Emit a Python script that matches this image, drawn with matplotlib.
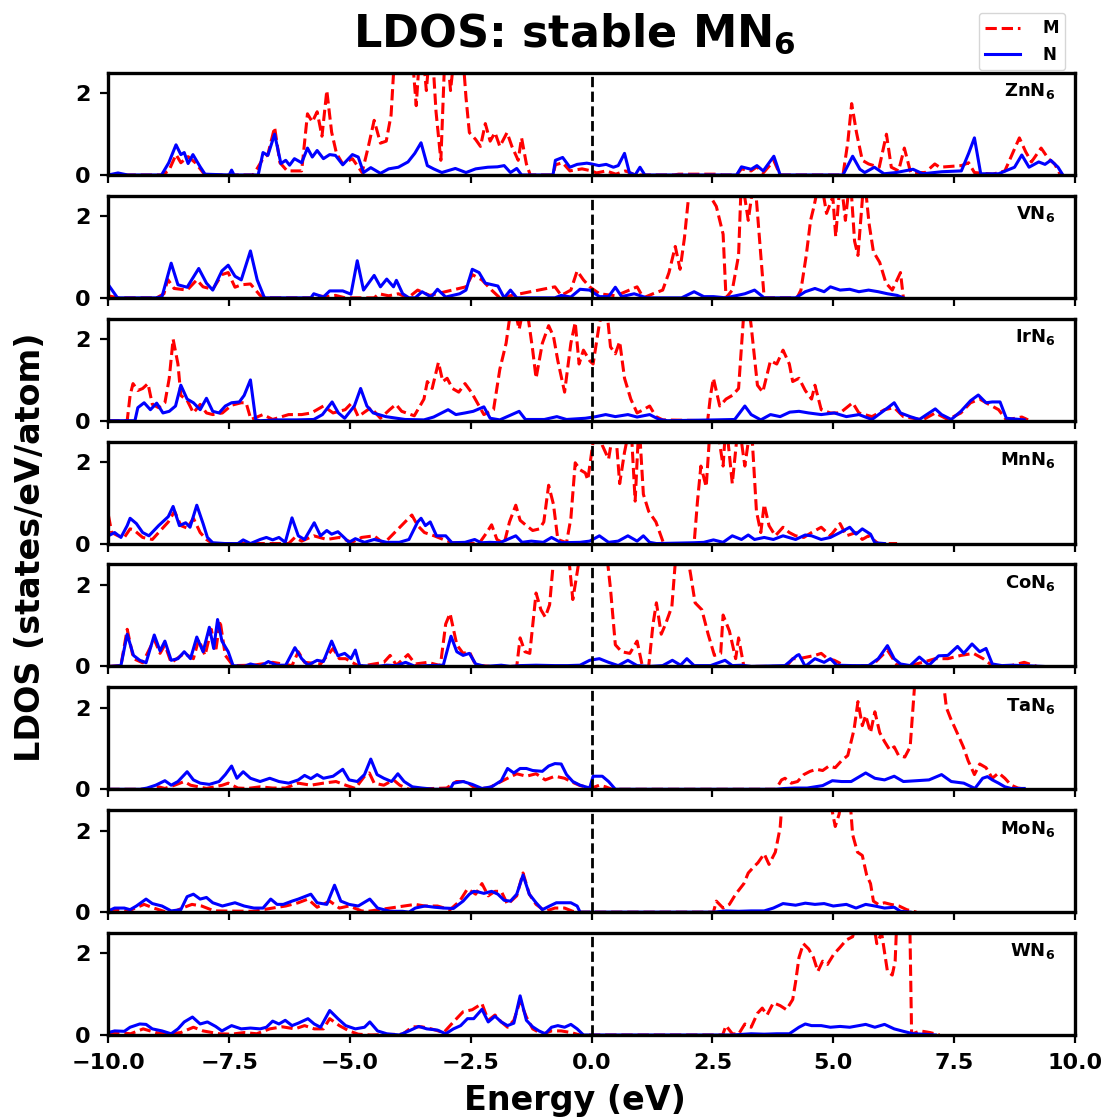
import matplotlib

matplotlib.use("Agg")
import matplotlib.pyplot as plt
from matplotlib.lines import Line2D

# energies (eV) and LDOS (states/eV/atom)
# values above the axis top (2.5) are clipped in the plot

ZN_M_E = [-10.0, -8.9, -8.75, -8.6, -8.5, -8.35, -8.2, -8.0, -7.0, -6.8, -6.7, -6.56, -6.45, -6.3, -6.0,
          -5.88, -5.78, -5.68, -5.58, -5.48, -5.38, -5.28, -5.15, -4.95, -4.75, -4.62, -4.5, -4.37, -4.25,
          -4.15, -4.05, -3.9, -3.75, -3.63, -3.53, -3.42, -3.32, -3.22, -3.12, -3.02, -2.92, -2.82, -2.7,
          -2.6, -2.53, -2.4, -2.3, -2.2, -2.1, -2.0, -1.9, -1.75, -1.65, -1.52, -1.45, -1.35, -1.27, -0.8,
          -0.75, -0.6, -0.45, -0.2, 0.0, 0.1, 0.3, 0.5, 0.7, 0.9, 1.7, 1.8, 2.6, 2.7, 3.0, 3.1, 3.3, 3.42,
          3.55, 3.77, 3.9, 5.2, 5.3, 5.38, 5.48, 5.6, 5.73, 5.95, 6.1, 6.2, 6.35, 6.47, 6.6, 6.9, 7.1, 7.2,
          7.65, 7.8, 7.92, 8.3, 8.55, 8.85, 8.98, 9.1, 9.3, 9.45, 9.58, 9.7]
ZN_M = [0.0, 0.0, 0.1, 0.5, 0.3, 0.45, 0.3, 0.0, 0.0, 0.4, 0.5, 1.17, 0.3, 0.1, 0.1,
        1.5, 1.3, 1.55, 0.95, 2.07, 1.05, 0.53, 0.27, 0.4, 0.06, 0.7, 1.34, 0.78, 0.83,
        1.47, 3.5, 3.0, 3.5, 1.7, 3.5, 2.07, 3.5, 1.55, 0.36, 3.5, 2.07, 3.2, 3.5,
        1.9, 1.04, 0.87, 0.7, 1.26, 0.83, 1.04, 0.7, 1.04, 0.7, 0.36, 0.91, 0.27, 0.0, 0.0,
        0.25, 0.3, 0.1, 0.15, 0.1, 0.05, 0.1, 0.02, 0.1, 0.0, 0.0, 0.02, 0.02, 0.0, 0.0, 0.15, 0.1, 0.2,
        0.05, 0.35, 0.0, 0.0, 0.8, 1.75, 1.04, 0.36, 0.27, 0.19, 1.0, 0.19, 0.1, 0.66, 0.06, 0.06, 0.27, 0.19,
        0.23, 0.3, 0.06, 0.02, 0.1, 0.91, 0.57, 0.32, 0.66, 0.4, 0.27, 0.0]
ZN_N_E = [-10.0, -9.8, -9.6, -8.9, -8.75, -8.6, -8.5, -8.43, -8.35, -8.25, -8.1, -8.0, -7.5, -7.45, -7.4,
          -6.9, -6.8, -6.7, -6.56, -6.43, -6.33, -6.25, -6.15, -6.0, -5.88, -5.78, -5.68, -5.55, -5.42,
          -5.3, -5.15, -4.95, -4.83, -4.72, -4.57, -4.37, -4.2, -4.0, -3.8, -3.66, -3.53, -3.4, -3.27,
          -3.1, -2.82, -2.6, -2.4, -2.15, -1.95, -1.81, -1.68, -1.55, -1.45, -0.8, -0.75, -0.6, -0.45,
          -0.3, -0.1, 0.0, 0.15, 0.3, 0.45, 0.55, 0.68, 0.78, 0.9, 1.0, 1.1, 3.0, 3.1, 3.3, 3.42, 3.55,
          3.77, 3.9, 5.2, 5.4, 5.55, 5.65, 5.85, 6.05, 6.3, 6.65, 6.85, 7.25, 7.65, 7.8, 7.92, 8.05, 8.42,
          8.75, 8.9, 9.05, 9.25, 9.38, 9.5, 9.65, 9.75]
ZN_N = [0.0, 0.05, 0.0, 0.0, 0.3, 0.74, 0.5, 0.55, 0.28, 0.5, 0.2, 0.02, 0.0, 0.12, 0.0,
        0.0, 0.55, 0.48, 1.0, 0.28, 0.36, 0.24, 0.4, 0.3, 0.66, 0.44, 0.6, 0.4, 0.5,
        0.48, 0.25, 0.5, 0.44, 0.06, 0.18, 0.04, 0.15, 0.19, 0.32, 0.53, 0.79, 0.23, 0.15,
        0.06, 0.16, 0.06, 0.15, 0.19, 0.2, 0.23, 0.06, 0.16, 0.0, 0.0, 0.36, 0.43, 0.19,
        0.26, 0.29, 0.27, 0.23, 0.26, 0.19, 0.23, 0.53, 0.06, 0.0, 0.19, 0.0, 0.0, 0.2, 0.14, 0.23, 0.1,
        0.46, 0.0, 0.0, 0.46, 0.14, 0.06, 0.19, 0.03, 0.06, 0.14, 0.03, 0.08, 0.1, 0.53, 0.91, 0.03, 0.03,
        0.19, 0.49, 0.19, 0.32, 0.26, 0.36, 0.19, 0.0]

V_M_E = [-10.0, -9.8, -9.0, -8.85, -8.77, -8.64, -8.5, -8.37, -8.17, -8.04, -7.84, -7.65, -7.52, -7.38,
         -7.25, -7.06, -6.86, -6.75, -5.8, -5.7, -5.5, -5.3, -5.1, -4.5, -4.4, -4.2, -4.0, -3.8, -3.6,
         -3.35, -2.6, -2.47, -2.27, -2.07, -1.9, -0.76, -0.63, -0.43, -0.3, -0.17, -0.04, 0.16, 0.5,
         0.94, 1.07, 1.27, 1.47, 1.6, 1.73, 1.83, 1.92, 2.05, 2.2, 2.4, 2.45, 2.58, 2.72, 2.78, 2.91,
         3.04, 3.1, 3.24, 3.37, 3.5, 3.57, 4.25, 4.33, 4.44, 4.53, 4.6, 4.73, 4.86, 4.99, 5.05, 5.15,
         5.25, 5.35, 5.44, 5.51, 5.64, 5.74, 5.83, 5.96, 6.09, 6.22, 6.39, 6.45]
V_M = [0.05, 0.0, 0.0, 0.1, 0.45, 0.23, 0.21, 0.19, 0.44, 0.27, 0.21, 0.57, 0.62, 0.26,
       0.32, 0.34, 0.06, 0.0, 0.0, 0.05, 0.03, 0.06, 0.0, 0.0, 0.1, 0.05, 0.1, 0.0, 0.19,
       0.06, 0.27, 0.57, 0.44, 0.19, 0.0, 0.27, 0.06, 0.19, 0.66, 0.44, 0.27, 0.1, 0.05,
       0.27, 0.0, 0.1, 0.19, 0.62, 1.26, 0.7, 1.47, 3.0, 3.0, 3.0, 2.5, 2.24, 1.56, 0.0, 0.19,
       1.04, 3.0, 1.9, 3.0, 1.04, 0.0, 0.0, 0.19, 1.04, 1.9, 2.24, 3.0, 2.07, 2.48, 1.5, 3.0,
       1.9, 3.0, 1.39, 1.04, 3.0, 1.82, 1.13, 0.87, 0.36, 0.19, 0.62, 0.0]
V_N_E = [-10.0, -9.81, -9.02, -8.89, -8.7, -8.56, -8.37, -8.13, -7.97, -7.84, -7.65, -7.52, -7.38, -7.25,
         -7.06, -6.92, -6.77, -5.81, -5.75, -5.55, -5.42, -5.15, -4.98, -4.85, -4.72, -4.5, -4.37, -4.24,
         -4.1, -4.04, -3.91, -3.78, -3.65, -3.51, -3.32, -3.19, -3.02, -2.73, -2.6, -2.47, -2.33, -2.2,
         -1.94, -1.81, -1.68, -1.55, -0.76, -0.63, -0.43, -0.24, -0.04, 0.16, 0.35, 0.49, 0.62, 0.88,
         1.14, 1.86, 2.12, 2.32, 2.52, 2.78, 3.17, 3.37, 3.57, 4.22, 4.42, 4.62, 4.81, 4.94, 5.14, 5.34,
         5.53, 5.73, 5.93, 6.12, 6.32, 6.45]
V_N = [0.32, 0.0, 0.0, 0.03, 0.85, 0.32, 0.26, 0.72, 0.36, 0.19, 0.66, 0.8, 0.53, 0.44,
       1.15, 0.44, 0.0, 0.0, 0.1, 0.02, 0.17, 0.17, 0.09, 0.91, 0.19, 0.55, 0.27, 0.46,
       0.27, 0.43, 0.1, 0.0, 0.0, 0.15, 0.02, 0.21, 0.02, 0.1, 0.19, 0.7, 0.62, 0.36,
       0.29, 0.0, 0.19, 0.0, 0.0, 0.06, 0.02, 0.21, 0.19, 0.03, 0.03, 0.26, 0.03, 0.1,
       0.0, 0.0, 0.15, 0.03, 0.03, 0.0, 0.1, 0.19, 0.0, 0.0, 0.15, 0.23, 0.15, 0.27, 0.19, 0.21,
       0.15, 0.19, 0.15, 0.1, 0.06, 0.0]

IR_M_E = [-10.0, -9.61, -9.55, -9.49, -9.39, -9.29, -9.18, -9.09, -8.96, -8.83, -8.74, -8.66, -8.56,
          -8.5, -8.37, -8.24, -8.1, -7.97, -7.84, -7.64, -7.45, -7.25, -7.15, -7.05, -6.8, -6.6, -6.27,
          -6.0, -5.8, -5.55, -5.35, -5.1, -4.96, -4.83, -4.57, -4.37, -4.18, -4.05, -3.93, -3.67, -3.47,
          -3.4, -3.3, -3.17, -3.08, -2.99, -2.88, -2.75, -2.62, -2.49, -2.39, -2.23, -2.03, -1.9, -1.77,
          -1.64, -1.5, -1.37, -1.22, -1.15, -1.02, -0.89, -0.79, -0.7, -0.56, -0.43, -0.34, -0.26, -0.17,
          -0.04, 0.03, 0.16, 0.29, 0.39, 0.49, 0.58, 0.68, 0.81, 0.94, 1.07, 1.2, 1.33, 1.47, 2.4, 2.46,
          2.52, 2.65, 2.78, 2.91, 3.04, 3.14, 3.23, 3.3, 3.43, 3.54, 3.7, 3.83, 3.96, 4.09, 4.16, 4.29,
          4.42, 4.55, 4.62, 4.75, 4.94, 5.14, 5.4, 5.53, 5.8, 6.06, 6.26, 6.45, 6.85, 7.11, 7.37, 7.64,
          7.84, 8.03, 8.22, 8.42, 8.58, 8.9, 9.03]
IR_M = [0.0, 0.0, 0.62, 0.91, 0.74, 0.79, 0.91, 0.4, 0.32, 0.44, 1.04, 2.0, 1.39,
        0.62, 0.5, 0.19, 0.4, 0.19, 0.15, 0.19, 0.38, 0.44, 0.44, 0.03, 0.15, 0.03, 0.15,
        0.15, 0.19, 0.36, 0.19, 0.27, 0.44, 0.1, 0.32, 0.06, 0.27, 0.4, 0.23, 0.12, 0.53,
        0.96, 0.79, 1.43, 0.96, 1.04, 0.79, 0.7, 0.91, 0.7, 0.49, 0.15, 0.27, 1.26, 1.9,
        3.0, 2.24, 3.0, 1.73, 1.04, 1.9, 2.33, 2.07, 1.47, 0.7, 1.9, 2.41, 1.39, 1.73,
        1.47, 1.39, 2.38, 3.0, 1.81, 1.64, 1.94, 1.04, 0.53, 0.19, 0.27, 0.36, 0.1, 0.02, 0.0, 0.62,
        1.04, 0.36, 0.53, 0.62, 0.79, 2.5, 3.0, 2.33, 0.87, 0.7, 1.47, 1.39, 1.73, 1.39, 0.96, 1.04,
        0.74, 0.53, 0.87, 0.27, 0.19, 0.19, 0.44, 0.19, 0.1, 0.27, 0.32, 0.1, 0.02, 0.19, 0.03, 0.19,
        0.44, 0.53, 0.4, 0.27, 0.02, 0.09, 0.02]
IR_N_E = [-10.0, -9.45, -9.39, -9.26, -9.13, -9.0, -8.87, -8.74, -8.61, -8.5, -8.37, -8.24, -8.1, -7.97,
          -7.84, -7.71, -7.58, -7.45, -7.29, -7.19, -7.06, -6.95, -6.86, -6.5, -6.1, -5.75, -5.57, -5.37,
          -5.24, -5.11, -4.91, -4.78, -4.65, -4.52, -4.26, -3.86, -3.47, -3.27, -2.97, -2.81, -2.62,
          -2.45, -2.23, -2.1, -1.9, -1.5, -1.37, -0.98, -0.72, -0.52, -0.13, 0.09, 0.29, 0.49, 0.75,
          0.94, 1.2, 1.4, 1.57, 2.56, 2.96, 3.17, 3.3, 3.5, 3.7, 3.9, 4.1, 4.29, 4.49, 4.75, 5.02, 5.27,
          5.53, 5.8, 6.13, 6.26, 6.39, 6.59, 6.78, 7.11, 7.24, 7.44, 7.64, 7.84, 8.0, 8.16, 8.29, 8.45,
          8.58, 8.95]
IR_N = [0.0, 0.0, 0.32, 0.44, 0.27, 0.43, 0.19, 0.23, 0.36, 0.87, 0.53, 0.44, 0.27, 0.55,
        0.23, 0.19, 0.36, 0.44, 0.46, 0.62, 1.0, 0.02, 0.0, 0.02, 0.02, 0.03, 0.15, 0.46,
        0.19, 0.06, 0.36, 0.79, 0.36, 0.19, 0.1, 0.03, 0.02, 0.09, 0.27, 0.15, 0.19,
        0.23, 0.34, 0.06, 0.02, 0.23, 0.03, 0.03, 0.1, 0.03, 0.06, 0.1, 0.15, 0.1, 0.15,
        0.09, 0.15, 0.03, 0.0, 0.02, 0.03, 0.36, 0.15, 0.02, 0.15, 0.1, 0.21, 0.23, 0.19, 0.15, 0.19, 0.1,
        0.15, 0.03, 0.32, 0.44, 0.19, 0.1, 0.03, 0.29, 0.15, 0.03, 0.23, 0.49, 0.63, 0.44, 0.46, 0.46,
        0.06, 0.02]

MN_M_E = [-10.0, -9.93, -9.8, -9.67, -9.55, -9.48, -9.29, -9.09, -8.96, -8.76, -8.63, -8.5, -8.37, -8.24,
          -8.1, -7.97, -7.84, -6.27, -6.14, -6.0, -5.75, -5.48, -5.22, -4.96, -4.76, -4.5, -4.3, -3.72,
          -3.6, -3.46, -3.26, -3.07, -2.88, -2.33, -2.17, -2.07, -1.96, -1.81, -1.7, -1.57, -1.48, -1.35,
          -1.22, -1.08, -0.99, -0.89, -0.79, -0.7, -0.52, -0.43, -0.34, -0.24, -0.13, -0.08, 0.0, 0.09,
          0.22, 0.35, 0.48, 0.58, 0.68, 0.81, 0.9, 0.98, 1.07, 1.18, 1.33, 1.49, 2.12, 2.19, 2.26, 2.37,
          2.46, 2.58, 2.72, 2.78, 2.91, 3.04, 3.17, 3.3, 3.41, 3.5, 3.57, 3.67, 3.8, 3.96, 4.09, 4.22,
          4.39, 4.55, 4.75, 4.94, 5.14, 5.27, 5.47, 5.6, 5.73, 5.93, 6.32]
MN_M = [0.7, 0.27, 0.19, 0.15, 0.36, 0.34, 0.15, 0.1, 0.27, 0.53, 0.79, 0.44, 0.38, 0.62,
        0.27, 0.1, 0.0, 0.0, 0.15, 0.06, 0.19, 0.1, 0.15, 0.03, 0.15, 0.19, 0.0, 0.7,
        0.44, 0.27, 0.19, 0.1, 0.02, 0.0, 0.27, 0.46, 0.1, 0.0, 0.53, 0.94, 0.57, 0.44,
        0.32, 0.36, 0.53, 1.43, 0.96, 0.1, 0.02, 0.62, 1.98, 1.81, 1.73, 1.56, 2.24, 3.0,
        2.41, 2.07, 3.0, 1.47, 2.24, 3.0, 1.04, 3.0, 1.21, 0.79, 0.53, 0.0, 0.0, 1.04, 1.9, 1.39,
        3.0, 3.0, 1.9, 3.0, 1.47, 3.0, 1.9, 3.0, 0.79, 0.27, 0.96, 0.44, 0.19, 0.4, 0.27, 0.19,
        0.15, 0.27, 0.4, 0.19, 0.49, 0.19, 0.27, 0.1, 0.19, 0.0, 0.0]
MN_N_E = [-10.0, -9.87, -9.74, -9.61, -9.55, -9.42, -9.29, -9.16, -8.96, -8.76, -8.66, -8.53, -8.4,
          -8.31, -8.17, -8.04, -7.95, -7.84, -7.58, -7.32, -7.21, -7.06, -6.86, -6.73, -6.6, -6.47,
          -6.34, -6.2, -6.07, -5.94, -5.74, -5.61, -5.48, -5.38, -5.25, -5.16, -5.02, -4.89, -4.7,
          -4.5, -4.24, -3.98, -3.78, -3.6, -3.53, -3.44, -3.34, -3.21, -3.02, -2.89, -2.62, -2.42,
          -2.29, -2.1, -1.9, -1.57, -1.44, -1.25, -1.0, -0.83, -0.63, -0.24, -0.04, 0.16, 0.35, 0.55,
          0.75, 0.94, 1.07, 1.2, 1.34, 2.12, 2.32, 2.52, 2.72, 2.91, 3.1, 3.24, 3.37, 3.57, 3.76, 3.96,
          4.22, 4.42, 4.55, 4.75, 4.94, 5.14, 5.34, 5.47, 5.6, 5.77, 5.86, 6.06]
MN_N = [0.19, 0.27, 0.15, 0.44, 0.62, 0.49, 0.27, 0.19, 0.44, 0.66, 0.91, 0.44, 0.51,
        0.4, 0.94, 0.49, 0.15, 0.02, 0.0, 0.0, 0.09, 0.0, 0.1, 0.15, 0.09, 0.15,
        0.03, 0.63, 0.19, 0.1, 0.51, 0.19, 0.32, 0.23, 0.29, 0.19, 0.03, 0.12, 0.03,
        0.1, 0.03, 0.03, 0.1, 0.53, 0.62, 0.44, 0.53, 0.19, 0.19, 0.02, 0.03, 0.1,
        0.02, 0.03, 0.02, 0.19, 0.03, 0.06, 0.03, 0.15, 0.02, 0.03, 0.06, 0.19, 0.03, 0.06,
        0.19, 0.06, 0.19, 0.03, 0.0, 0.02, 0.03, 0.09, 0.03, 0.19, 0.1, 0.21, 0.1, 0.15, 0.1, 0.19,
        0.1, 0.21, 0.19, 0.1, 0.15, 0.27, 0.4, 0.23, 0.36, 0.23, 0.02, 0.0]

CO_M_E = [-10.0, -9.74, -9.61, -9.48, -9.29, -9.05, -8.93, -8.83, -8.7, -8.43, -8.24, -8.13, -8.0, -7.87,
          -7.78, -7.69, -7.58, -7.42, -7.0, -6.6, -6.2, -6.07, -5.94, -5.61, -5.35, -5.22, -5.09, -4.96,
          -4.8, -4.3, -4.17, -4.04, -3.8, -3.65, -3.39, -3.13, -3.02, -2.93, -2.79, -2.66, -2.53, -2.4,
          -2.07, -1.55, -1.48, -1.38, -1.28, -1.15, -1.05, -0.96, -0.87, -0.76, -0.5, -0.39, -0.3, -0.21,
          -0.13, 0.0, 0.29, 0.39, 0.49, 0.62, 0.79, 0.94, 1.05, 1.18, 1.27, 1.34, 1.44, 1.53, 1.66, 1.76,
          1.94, 2.05, 2.14, 2.28, 2.41, 2.54, 2.67, 2.72, 2.85, 2.98, 3.04, 3.15, 4.03, 4.16, 4.29, 4.62,
          4.75, 4.88, 5.02, 5.27, 5.8, 6.12, 6.32, 6.59, 6.85, 7.11, 7.37, 7.64, 7.9, 8.1, 8.29, 8.68,
          8.95, 9.21]
CO_M = [0.0, 0.02, 0.91, 0.19, 0.09, 0.66, 0.32, 0.53, 0.09, 0.32, 0.19, 0.66, 0.27, 0.91,
        0.36, 1.13, 0.27, 0.02, 0.03, 0.1, 0.02, 0.36, 0.1, 0.06, 0.44, 0.19, 0.19, 0.1,
        0.0, 0.1, 0.27, 0.03, 0.29, 0.06, 0.1, 0.02, 1.04, 1.3, 0.53, 0.32, 0.36, 0.03,
        0.0, 0.0, 0.7, 0.36, 0.32, 1.8, 1.39, 1.21, 1.51, 3.0, 3.0, 1.64, 2.3, 3.0,
        2.8, 3.0, 3.0, 1.9, 0.53, 0.36, 0.32, 0.62, 0.0, 0.0, 1.04, 1.56, 0.79, 1.04, 1.47, 3.0,
        3.0, 2.24, 1.56, 1.39, 0.79, 0.27, 0.32, 1.26, 0.87, 0.19, 0.7, 0.0, 0.0, 0.19, 0.19, 0.27,
        0.32, 0.19, 0.15, 0.0, 0.02, 0.4, 0.03, 0.02, 0.1, 0.19, 0.19, 0.27, 0.32, 0.19, 0.02, 0.02,
        0.1, 0.0]
CO_N_E = [-10.0, -9.74, -9.61, -9.48, -9.35, -9.22, -9.05, -8.93, -8.83, -8.7, -8.56, -8.43, -8.3, -8.17,
          -8.04, -7.91, -7.82, -7.74, -7.65, -7.52, -7.42, -7.19, -7.06, -6.86, -6.69, -6.52, -6.33,
          -6.14, -6.0, -5.87, -5.68, -5.55, -5.38, -5.25, -5.11, -4.98, -4.89, -4.8, -4.44, -4.24,
          -4.04, -3.85, -3.65, -3.39, -3.07, -2.91, -2.79, -2.66, -2.53, -2.4, -2.2, -1.87, -1.68,
          -1.48, -1.15, -0.76, -0.5, -0.24, -0.04, 0.16, 0.35, 0.55, 0.75, 0.94, 1.2, 1.47, 1.67, 1.84,
          1.97, 2.12, 2.46, 2.76, 2.91, 3.11, 3.3, 4.0, 4.25, 4.29, 4.42, 4.62, 4.81, 4.94, 5.07, 5.4,
          5.73, 5.93, 6.12, 6.26, 6.39, 6.59, 6.78, 6.98, 7.18, 7.37, 7.57, 7.7, 7.87, 8.03, 8.16, 8.29,
          8.49, 8.68, 8.95, 9.34]
CO_N = [0.0, 0.02, 0.79, 0.27, 0.15, 0.09, 0.77, 0.38, 0.62, 0.15, 0.19, 0.36, 0.19, 0.72,
        0.36, 0.96, 0.44, 1.15, 0.62, 0.36, 0.02, 0.0, 0.06, 0.0, 0.12, 0.03, 0.03,
        0.46, 0.19, 0.03, 0.15, 0.12, 0.62, 0.26, 0.32, 0.19, 0.4, 0.02, 0.0, 0.03,
        0.02, 0.1, 0.0, 0.02, 0.03, 0.74, 0.36, 0.27, 0.32, 0.06, 0.0, 0.03, 0.0,
        0.02, 0.03, 0.02, 0.02, 0.03, 0.15, 0.19, 0.1, 0.02, 0.15, 0.02, 0.0, 0.02, 0.15, 0.03,
        0.19, 0.02, 0.02, 0.15, 0.02, 0.03, 0.0, 0.02, 0.27, 0.29, 0.0, 0.19, 0.1, 0.19, 0.03, 0.02,
        0.02, 0.19, 0.51, 0.19, 0.06, 0.02, 0.23, 0.03, 0.26, 0.27, 0.49, 0.32, 0.55, 0.36, 0.44, 0.06,
        0.02, 0.03, 0.02, 0.0]

TA_M_E = [-10.0, -9.2, -8.96, -8.83, -8.63, -8.43, -8.3, -7.97, -7.64, -7.52, -7.32, -7.12, -6.86, -6.6,
          -6.33, -6.07, -5.81, -5.55, -5.29, -5.09, -4.89, -4.7, -4.6, -4.5, -4.3, -4.1, -3.97, -3.78,
          -3.0, -2.8, -2.6, -2.4, -2.13, -1.94, -1.74, -1.55, -1.35, -1.15, -0.96, -0.76, -0.56, -0.43,
          -0.24, 0.0, 0.16, 0.29, 0.42, 3.81, 3.93, 4.0, 4.13, 4.26, 4.39, 4.52, 4.65, 4.78, 4.91, 5.04,
          5.17, 5.3, 5.43, 5.51, 5.6, 5.67, 5.77, 5.86, 5.96, 6.06, 6.17, 6.26, 6.35, 6.48, 6.59, 6.71,
          6.85, 7.05, 7.24, 7.34, 7.43, 7.56, 7.69, 7.79, 7.92, 8.03, 8.16, 8.29, 8.42, 8.55, 8.68, 8.82,
          9.0]
TA_M = [0.0, 0.0, 0.06, 0.02, 0.1, 0.19, 0.1, 0.02, 0.1, 0.15, 0.03, 0.02, 0.06, 0.03,
        0.03, 0.15, 0.1, 0.15, 0.19, 0.1, 0.02, 0.32, 0.4, 0.15, 0.1, 0.23, 0.1, 0.0,
        0.03, 0.19, 0.19, 0.02, 0.03, 0.15, 0.27, 0.38, 0.32, 0.38, 0.23, 0.32, 0.27, 0.19,
        0.09, 0.03, 0.1, 0.06, 0.0, 0.0, 0.23, 0.27, 0.15, 0.19, 0.36, 0.44, 0.49, 0.46, 0.57, 0.53,
        0.7, 0.83, 1.47, 2.15, 1.56, 1.81, 1.39, 1.9, 1.39, 1.17, 0.96, 1.04, 0.83, 0.79, 1.04, 3.0,
        3.0, 3.0, 3.0, 2.0, 1.73, 1.39, 1.04, 0.7, 0.36, 0.62, 0.53, 0.27, 0.4, 0.27, 0.1, 0.03,
        0.0]
TA_N_E = [-10.0, -9.34, -9.2, -9.02, -8.83, -8.7, -8.56, -8.37, -8.24, -8.1, -7.91, -7.71, -7.58, -7.45,
          -7.34, -7.21, -7.06, -6.86, -6.66, -6.47, -6.27, -6.07, -5.94, -5.81, -5.68, -5.55, -5.35,
          -5.15, -5.02, -4.85, -4.7, -4.57, -4.44, -4.3, -4.14, -4.01, -3.88, -3.71, -3.51, -3.25, -2.93,
          -2.86, -2.66, -2.47, -2.27, -2.07, -1.87, -1.74, -1.61, -1.48, -1.35, -1.22, -1.02, -0.89,
          -0.76, -0.63, -0.52, -0.39, -0.24, -0.04, 0.03, 0.22, 0.35, 0.49, 3.8, 4.0, 4.2, 4.46, 4.78,
          4.98, 5.17, 5.37, 5.67, 5.86, 6.06, 6.26, 6.45, 6.72, 6.98, 7.24, 7.44, 7.7, 7.93, 8.09, 8.19,
          8.29, 8.42, 8.55, 8.68, 8.95]
TA_N = [0.0, 0.0, 0.03, 0.1, 0.21, 0.1, 0.19, 0.43, 0.23, 0.15, 0.12, 0.19, 0.36, 0.57,
        0.27, 0.43, 0.27, 0.19, 0.27, 0.19, 0.15, 0.23, 0.34, 0.26, 0.36, 0.27, 0.32,
        0.49, 0.23, 0.19, 0.36, 0.74, 0.36, 0.27, 0.19, 0.38, 0.19, 0.06, 0.03, 0.0, 0.0,
        0.15, 0.19, 0.12, 0.02, 0.06, 0.21, 0.51, 0.4, 0.51, 0.51, 0.46, 0.44, 0.57,
        0.63, 0.62, 0.36, 0.19, 0.1, 0.03, 0.32, 0.32, 0.19, 0.0, 0.0, 0.02, 0.03, 0.03, 0.09,
        0.21, 0.19, 0.19, 0.4, 0.27, 0.23, 0.32, 0.19, 0.21, 0.23, 0.36, 0.19, 0.15, 0.02, 0.27, 0.31,
        0.23, 0.15, 0.06, 0.02, 0.02]

MO_M_E = [-10.0, -9.8, -9.6, -9.26, -9.06, -8.85, -8.66, -8.47, -8.27, -8.07, -7.81, -7.0, -6.6, -6.33,
          -6.07, -5.87, -5.68, -5.42, -5.22, -5.02, -4.76, -4.63, -3.65, -3.45, -3.19, -2.93, -2.73,
          -2.57, -2.4, -2.27, -2.14, -2.0, -1.87, -1.74, -1.55, -1.42, -1.29, -1.15, -0.96, -0.76, -0.56,
          -0.39, -0.24, 2.52, 2.58, 2.72, 2.85, 2.98, 3.15, 3.24, 3.37, 3.44, 3.57, 3.67, 3.8, 3.9, 3.96,
          4.5, 4.9, 4.99, 5.04, 5.12, 5.2, 5.33, 5.4, 5.5, 5.6, 5.69, 5.77, 5.83, 5.93, 6.06, 6.19, 6.36,
          6.52, 6.72]
MO_M = [0.0, 0.06, 0.02, 0.19, 0.1, 0.02, 0.0, 0.1, 0.19, 0.15, 0.03, 0.02, 0.1, 0.15,
        0.23, 0.32, 0.12, 0.27, 0.1, 0.15, 0.03, 0.02, 0.19, 0.15, 0.15, 0.06, 0.27,
        0.57, 0.44, 0.7, 0.4, 0.51, 0.51, 0.19, 0.4, 0.96, 0.44, 0.19, 0.02, 0.1, 0.1,
        0.02, 0.0, 0.0, 0.27, 0.1, 0.19, 0.44, 0.7, 0.96, 1.13, 1.21, 1.43, 1.17, 1.47, 2.07, 3.0,
        3.0, 3.0, 2.4, 2.1, 2.4, 3.0, 3.0, 1.9, 1.47, 1.39, 0.91, 0.7, 0.27, 0.19, 0.23, 0.19, 0.15,
        0.06, 0.0]
MO_N_E = [-10.0, -9.87, -9.67, -9.55, -9.42, -9.22, -9.09, -8.89, -8.7, -8.5, -8.37, -8.24, -8.1, -7.97,
          -7.84, -7.64, -7.38, -7.19, -6.99, -6.8, -6.64, -6.51, -6.38, -6.2, -6.07, -5.94, -5.81, -5.68,
          -5.48, -5.32, -5.19, -5.02, -4.83, -4.59, -4.43, -4.17, -3.91, -3.78, -3.65, -3.45, -3.25,
          -3.06, -2.86, -2.66, -2.53, -2.44, -2.33, -2.23, -2.07, -1.94, -1.81, -1.68, -1.55, -1.42,
          -1.29, -1.15, -1.02, -0.87, -0.73, -0.56, -0.43, -0.3, -0.24, 2.52, 2.78, 3.04, 3.3, 3.57,
          3.76, 3.96, 4.22, 4.42, 4.62, 4.81, 5.0, 5.27, 5.47, 5.67, 5.86, 6.06, 6.26, 6.39, 6.59]
MO_N = [0.03, 0.1, 0.1, 0.06, 0.15, 0.32, 0.21, 0.15, 0.03, 0.06, 0.38, 0.44, 0.32, 0.36,
        0.23, 0.15, 0.23, 0.15, 0.1, 0.1, 0.32, 0.19, 0.19, 0.27, 0.32, 0.38, 0.44, 0.23,
        0.19, 0.66, 0.27, 0.19, 0.15, 0.32, 0.1, 0.02, 0.02, 0.0, 0.1, 0.15, 0.12,
        0.1, 0.09, 0.27, 0.44, 0.51, 0.49, 0.46, 0.51, 0.44, 0.29, 0.27, 0.44, 0.91,
        0.44, 0.23, 0.06, 0.15, 0.23, 0.23, 0.23, 0.15, 0.0, 0.0, 0.03, 0.02, 0.03, 0.03,
        0.1, 0.21, 0.17, 0.22, 0.19, 0.21, 0.15, 0.19, 0.1, 0.19, 0.15, 0.1, 0.12, 0.02, 0.0]

W_M_E = [-10.0, -9.8, -9.54, -9.28, -9.02, -8.76, -8.5, -8.24, -8.04, -7.71, -7.45, -7.19, -6.93, -6.66,
         -6.4, -6.14, -5.94, -5.74, -5.55, -5.42, -5.22, -5.02, -4.83, -4.57, -3.91, -3.71, -3.51, -3.32,
         -3.06, -2.86, -2.66, -2.47, -2.27, -2.14, -2.0, -1.87, -1.74, -1.61, -1.48, -1.35, -1.22, -1.02,
         -0.83, -0.63, -0.43, -0.24, 2.71, 2.78, 2.91, 3.04, 3.17, 3.3, 3.43, 3.53, 3.63, 3.76, 3.9,
         4.03, 4.16, 4.22, 4.29, 4.38, 4.49, 4.59, 4.68, 4.78, 4.88, 5.01, 5.14, 5.27, 5.4, 5.53, 5.8,
         5.9, 6.0, 6.12, 6.22, 6.28, 6.32, 6.5, 6.58, 6.62, 6.8, 7.0, 7.2]
W_M = [0.02, 0.06, 0.03, 0.15, 0.06, 0.02, 0.06, 0.19, 0.1, 0.03, 0.02, 0.06, 0.03, 0.15,
       0.2, 0.15, 0.23, 0.15, 0.15, 0.4, 0.23, 0.1, 0.02, 0.0, 0.02, 0.2, 0.2, 0.15,
       0.06, 0.32, 0.57, 0.62, 0.77, 0.36, 0.49, 0.32, 0.19, 0.36, 0.83, 0.44, 0.15, 0.02,
       0.1, 0.1, 0.06, 0.0, 0.0, 0.23, 0.03, 0.02, 0.27, 0.19, 0.53, 0.66, 0.49, 0.79, 0.72,
       0.62, 0.87, 1.3, 1.9, 2.24, 2.11, 1.9, 1.56, 1.81, 1.73, 1.98, 2.15, 2.33, 2.41, 3.0, 3.0,
       2.24, 2.5, 1.56, 1.47, 1.81, 3.0, 3.0, 3.0, 0.02, 0.1, 0.06, 0.0]
W_N_E = [-10.0, -9.87, -9.67, -9.55, -9.35, -9.22, -9.09, -8.89, -8.7, -8.56, -8.43, -8.26, -8.1, -7.95,
         -7.78, -7.65, -7.45, -7.25, -7.06, -6.86, -6.73, -6.6, -6.47, -6.34, -6.2, -6.07, -5.87, -5.74,
         -5.61, -5.42, -5.25, -5.09, -4.89, -4.7, -4.59, -4.43, -4.24, -3.98, -3.78, -3.58, -3.41, -3.19,
         -3.02, -2.86, -2.71, -2.57, -2.44, -2.27, -2.14, -2.0, -1.87, -1.74, -1.61, -1.48, -1.35, -1.22,
         -1.09, -0.96, -0.83, -0.7, -0.56, -0.43, -0.3, -0.17, 2.91, 3.3, 3.57, 3.83, 4.09, 4.29, 4.42,
         4.55, 4.75, 4.94, 5.14, 5.34, 5.53, 5.67, 5.86, 6.06, 6.26, 6.45, 6.65, 6.85, 7.11]
W_N = [0.06, 0.1, 0.09, 0.19, 0.27, 0.26, 0.15, 0.1, 0.03, 0.15, 0.32, 0.44, 0.27, 0.32,
       0.21, 0.1, 0.23, 0.15, 0.17, 0.15, 0.19, 0.34, 0.27, 0.36, 0.23, 0.29, 0.4, 0.27,
       0.19, 0.6, 0.4, 0.23, 0.15, 0.19, 0.32, 0.1, 0.03, 0.0, 0.1, 0.21, 0.15, 0.12,
       0.03, 0.15, 0.23, 0.4, 0.4, 0.63, 0.32, 0.46, 0.32, 0.23, 0.29, 0.96, 0.36, 0.2,
       0.1, 0.03, 0.19, 0.23, 0.19, 0.26, 0.15, 0.0, 0.0, 0.03, 0.02, 0.03, 0.03, 0.19, 0.27,
       0.23, 0.23, 0.19, 0.21, 0.19, 0.23, 0.26, 0.19, 0.26, 0.15, 0.09, 0.03, 0.02, 0.0]

COMPOUNDS = ["ZnN$_\\mathbf{6}$", "VN$_\\mathbf{6}$", "IrN$_\\mathbf{6}$", "MnN$_\\mathbf{6}$",
             "CoN$_\\mathbf{6}$", "TaN$_\\mathbf{6}$", "MoN$_\\mathbf{6}$", "WN$_\\mathbf{6}$"]
PANELS = [
    (ZN_M_E, ZN_M, ZN_N_E, ZN_N),
    (V_M_E, V_M, V_N_E, V_N),
    (IR_M_E, IR_M, IR_N_E, IR_N),
    (MN_M_E, MN_M, MN_N_E, MN_N),
    (CO_M_E, CO_M, CO_N_E, CO_N),
    (TA_M_E, TA_M, TA_N_E, TA_N),
    (MO_M_E, MO_M, MO_N_E, MO_N),
    (W_M_E, W_M, W_N_E, W_N),
]
X_TICKS = [-10.0, -7.5, -5.0, -2.5, 0.0, 2.5, 5.0, 7.5, 10.0]
Y_TICKS = [0, 2]

plt.rcParams["font.family"] = ["DejaVu Sans"]
plt.rcParams["font.weight"] = "bold"
plt.rcParams["axes.labelweight"] = "bold"

fig, axes = plt.subplots(len(PANELS), 1, sharex=True, figsize=(11.09, 11.2), dpi=100)
fig.subplots_adjust(left=0.0977, right=0.9693, top=0.9348, bottom=0.0759, hspace=0.205)

for ax, name, (m_e, m_y, n_e, n_y) in zip(axes, COMPOUNDS, PANELS):
    ax.plot(m_e, m_y, color="red", ls="--", lw=2.2)
    ax.plot(n_e, n_y, color="blue", ls="-", lw=2.2)
    ax.axvline(0, color="black", ls="--", lw=2)
    ax.set_xlim(-10, 10)
    ax.set_ylim(0, 2.5)
    ax.set_yticks(Y_TICKS)
    ax.tick_params(labelsize=16, width=1.6, length=6, pad=7)
    for spine in ax.spines.values():
        spine.set_linewidth(2.4)
    ax.text(0.98, 0.82, name, transform=ax.transAxes, ha="right", va="center",
            fontsize=13, fontweight="bold")

axes[-1].set_xticks(X_TICKS)
axes[-1].set_xticklabels([f"{t:.1f}".replace("-", "\u2212") for t in X_TICKS])

fig.suptitle("LDOS: stable MN$_\\mathbf{6}$", x=0.518, y=0.99, fontsize=32, fontweight="bold")
fig.text(0.518, 0.003, "Energy (eV)", ha="center", va="bottom", fontsize=24, fontweight="bold")
fig.text(0.0125, 0.511, "LDOS (states/eV/atom)", rotation=90, ha="left", va="center",
         fontsize=24, fontweight="bold")

handles = [Line2D([], [], color="red", ls="--", lw=2.2),
           Line2D([], [], color="blue", ls="-", lw=2.2)]
fig.legend(handles, ["M", "N"], loc="upper right", bbox_to_anchor=(0.968, 0.996),
           prop={"weight": "bold", "size": 12}, handlelength=2.1, handletextpad=1.3)

fig.savefig("out.png", dpi=100)
